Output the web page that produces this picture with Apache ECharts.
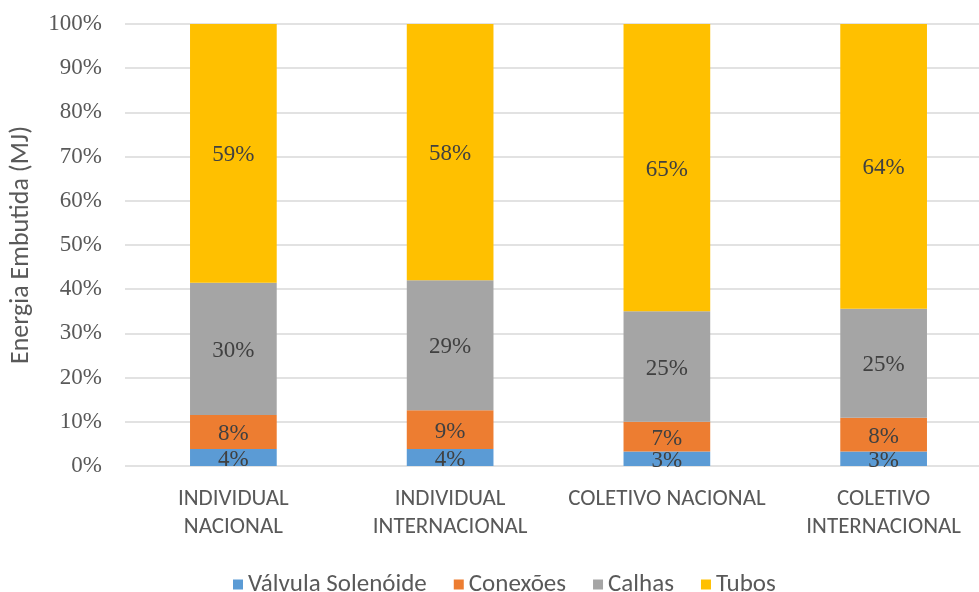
<!DOCTYPE html>
<html><head><meta charset="utf-8">
<script src="https://cdn.jsdelivr.net/npm/echarts@6/dist/echarts.min.js"></script>
<style>html,body{margin:0;padding:0;background:#fff}#c{width:979px;height:592px}</style>
</head><body><div id="c"></div>
<script>
const categories = ['INDIVIDUAL\nNACIONAL', 'INDIVIDUAL\nINTERNACIONAL', 'COLETIVO NACIONAL', 'COLETIVO\nINTERNACIONAL'];
const valvula = [3.85, 3.85, 3.3, 3.3];
const conexoes = [7.7, 8.75, 6.7, 7.6];
const calhas = [29.9, 29.4, 25.0, 24.7];
const tubos = [58.55, 58.0, 65.0, 64.4];
const yTicks = [0, 10, 20, 30, 40, 50, 60, 70, 80, 90, 100];

const sansFont = 'Carlito, "Open Sans", sans-serif';
const serifFont = '"Liberation Serif", "DejaVu Serif", serif';
const names = ['Válvula Solenóide', 'Conexões', 'Calhas', 'Tubos'];
const colors = ['#5b9bd5', '#ed7d31', '#a5a5a5', '#ffc000'];
const data = [valvula, conexoes, calhas, tubos];

const chart = echarts.init(document.getElementById('c'));
chart.setOption({
  animation: false,
  grid: { left: 125, width: 867, top: 24, bottom: 126, outerBoundsMode: 'none', containLabel: false },
  legend: {
    top: 567, left: 228, itemWidth: 10, itemHeight: 10, itemGap: 27, icon: 'rect',
    textStyle: { fontFamily: sansFont, fontSize: 25, color: '#595959' },
    data: names
  },
  xAxis: {
    type: 'category', data: categories,
    axisLine: { show: false }, axisTick: { show: false },
    axisLabel: { interval: 0, margin: 19, fontFamily: sansFont, fontSize: 23, color: '#595959', lineHeight: 28 }
  },
  yAxis: {
    type: 'value', min: 0, max: 100, interval: 10,
    name: 'Energia Embutida (MJ)', nameLocation: 'middle', nameGap: 91,
    nameTextStyle: { fontFamily: sansFont, fontSize: 26, color: '#595959' },
    axisLine: { show: false }, axisTick: { show: false },
    splitLine: { lineStyle: { color: '#d9d9d9', width: 1.5 } },
    axisLabel: { margin: 23, fontFamily: serifFont, fontSize: 23, color: '#595959',
      formatter: v => yTicks.includes(v) ? v + '%' : '' }
  },
  series: data.map((d, i) => ({
    name: names[i], type: 'bar', stack: 'total', data: d, barWidth: '40%',
    itemStyle: { color: colors[i] },
    label: { show: true, position: 'inside', offset: [0, 2], fontFamily: serifFont, fontSize: 23, color: '#404040',
      formatter: p => Math.round(p.value) + '%' }
  }))
});
</script></body></html>
